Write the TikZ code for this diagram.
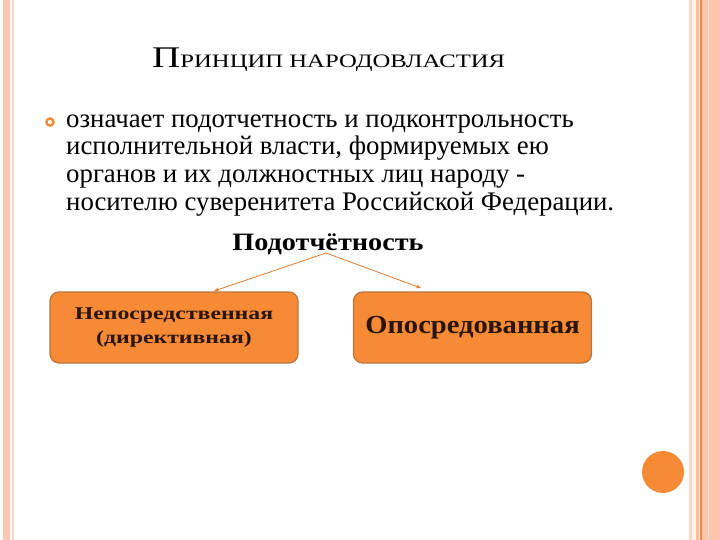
\documentclass[tikz,border=0pt]{standalone}
\usepackage{fontspec}
\setmainfont{Liberation Serif}
\usetikzlibrary{arrows.meta}
\definecolor{peach}{HTML}{FCC6AE}
\definecolor{lightpeach}{HTML}{FBD9C8}
\definecolor{cream}{HTML}{FFF5EC}
\definecolor{linecol}{HTML}{EE8A5E}
\definecolor{boxfill}{HTML}{F78B35}
\definecolor{boxedge}{HTML}{B8743F}
\definecolor{arrowcol}{HTML}{E07A2C}
\definecolor{textcol}{HTML}{2A1405}
\newcommand\wide[1]{\addfontfeature{FakeStretch=#1}}

\begin{document}
\begin{tikzpicture}[x=1pt,y=-1pt,
    kind/.style={draw=boxedge,line width=1.2pt,fill=boxfill,rounded corners=9pt,
      text=textcol,align=center,inner sep=0pt},
    link/.style={arrowcol,line width=0.8pt,-{Stealth[length=5pt,width=4pt]}}]
  \useasboundingbox[fill=white] (0,0) rectangle (720,540);
  % side strips
  \fill[peach] (3,0) rectangle (10,540);
  \fill[lightpeach] (12,0) rectangle (14,540);
  \fill[lightpeach] (689,0) rectangle (692,540);
  \fill[cream] (692,0) rectangle (696,540);
  \fill[peach!90!orange] (696,0) rectangle (699,540);
  \fill[linecol] (700,0) rectangle (702,540);
  \fill[peach] (702,0) rectangle (720,540);
  \draw[lightpeach,line width=0.6pt] (708,0) -- (708,540);
  \fill[boxfill] (663,472) circle[radius=21];
  % title and text
  \node[anchor=base west,inner sep=0pt] (title) at (152,68)
    {\wide{1.3}\fontsize{30}{30}\selectfont П\fontsize{19}{19}\selectfont РИНЦИП НАРОДОВЛАСТИЯ};
  \draw[boxfill,line width=2.4pt] (50,122) circle[radius=3.6];
  \node[anchor=base west,align=left,inner sep=0pt,font=\fontsize{26.8}{27.8}\selectfont]
    (def) at (66,210.4)
    {означает подотчетность и подконтрольность\\
     исполнительной власти, формируемых ею\\
     органов и их должностных лиц народу -\\
     носителю суверенитета Российской Федерации.};
  \node[anchor=base,inner sep=0pt,font=\fontsize{25}{25}\selectfont\bfseries\wide{1.13}]
    (acc) at (328,250) {Подотчётность};
  \coordinate (fork) at (326,253);
  % kinds
  \node[kind,minimum width=248pt,minimum height=71pt,
    font=\fontsize{18}{24}\selectfont\bfseries\wide{1.32}]
    (direct) at (174,327.5) {Непосредственная\\(директивная)};
  \node[kind,minimum width=238pt,minimum height=71pt,
    font=\fontsize{26}{26}\selectfont\bfseries\wide{1.1}]
    (indirect) at (472.5,327.5) {Опосредованная};
  \draw[link] (fork) -- (214,291);
  \draw[link] (fork) -- (421,288);
\end{tikzpicture}
\end{document}
